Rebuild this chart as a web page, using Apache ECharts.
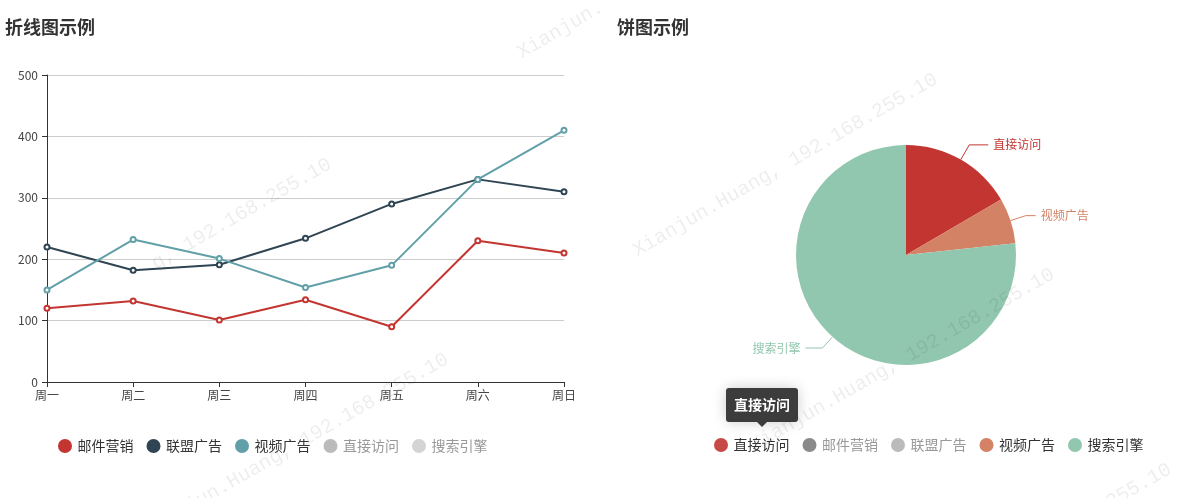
<!DOCTYPE html>
<html>
<head>
<meta charset="utf-8">
<title>示例</title>
<script src="https://cdn.jsdelivr.net/npm/echarts@6/dist/echarts.min.js"></script>
<style>
    html, body { margin: 0; padding: 0; background: #fff; overflow: hidden; }
    #lineChart, #pieChart, #markChart { position: absolute; top: 0; height: 498px; }
    #lineChart { left: 0; width: 600px; }
    #pieChart { left: 600px; width: 595px; }
    #markChart { left: 0; width: 1195px; pointer-events: none; }
</style>
</head>
<body>
<div id="lineChart"></div>
<div id="pieChart"></div>
<div id="markChart"></div>
<script>
const FONT = '"Noto Sans CJK SC", sans-serif';

// 折线图数据
const weekDays = ['周一', '周二', '周三', '周四', '周五', '周六', '周日'];
const mailValues = [120, 132, 101, 134, 90, 230, 210];
const unionValues = [220, 182, 191, 234, 290, 330, 310];
const videoValues = [150, 232, 201, 154, 190, 330, 410];
const lineLegend = ['邮件营销', '联盟广告', '视频广告', '直接访问', '搜索引擎'];

// 饼图数据 (邮件营销/联盟广告 are switched off in the legend, their values are a guess)
const pieNames = ['直接访问', '邮件营销', '联盟广告', '视频广告', '搜索引擎'];
const pieValues = [335, 310, 234, 135, 1548];

const watermarkFull = 'Xianjun.Huang, 192.168.255.10';
const watermarkCutLeft = 'g, 192.168.255.10';
const watermarkCutTop = 'Xianjun.';

const titleStyle = { fontFamily: FONT, fontSize: 18, fontWeight: 'bold', color: '#333' };

// 未选中的图例文字统一用灰色,图标颜色各不相同
function legendTextStyle() {
    return {
        fontFamily: FONT,
        fontSize: 14,
        color: '#333',
        rich: {
            off: { fontFamily: FONT, fontSize: 14, color: '#999' }
        }
    };
}

function initLineChart() {
    const chart = echarts.init(document.getElementById('lineChart'));
    const colors = { '邮件营销': '#c23531', '联盟广告': '#2f4554', '视频广告': '#61a0a8' };
    const values = { '邮件营销': mailValues, '联盟广告': unionValues, '视频广告': videoValues };
    const selected = { '直接访问': false, '搜索引擎': false };
    chart.setOption({
        animation: false,
        title: { text: '折线图示例', left: 5, top: 18, padding: 0, textStyle: titleStyle },
        legend: {
            left: 58,
            top: 439,
            padding: 0,
            itemWidth: 15,
            itemHeight: 14,
            itemGap: 13,
            icon: 'circle',
            textStyle: legendTextStyle(),
            formatter: name => (selected[name] === false ? '{off|' + name + '}' : name),
            data: lineLegend.map(name => ({
                name: name,
                icon: 'circle',
                inactiveColor: name === '搜索引擎' ? '#d4d4d4' : '#bbb',
                inactiveBorderColor: 'transparent'
            })),
            selected: selected
        },
        grid: { left: 47, top: 75, width: 517, height: 307, containLabel: false },
        xAxis: {
            type: 'category',
            boundaryGap: false,
            data: weekDays,
            axisLine: { show: true, lineStyle: { color: '#333' } },
            axisTick: { show: true, length: 5, alignWithLabel: true, lineStyle: { color: '#333' } },
            axisLabel: { color: '#444', fontFamily: FONT, fontSize: 12, margin: 7, interval: 0 }
        },
        yAxis: {
            type: 'value',
            min: 0,
            max: 500,
            interval: 100,
            axisLine: { show: true, lineStyle: { color: '#333' } },
            axisTick: { show: true, length: 5, lineStyle: { color: '#333' } },
            axisLabel: { color: '#444', fontFamily: FONT, fontSize: 12, margin: 9 },
            splitLine: { show: true, lineStyle: { color: '#ccc' } }
        },
        series: lineLegend.map(name => ({
            name: name,
            type: 'line',
            data: values[name] || [],
            symbol: 'emptyCircle',
            symbolSize: 5,
            showSymbol: true,
            itemStyle: { color: colors[name] || '#ccc', borderWidth: 0.7 },
            lineStyle: { color: colors[name] || '#ccc', width: 2 }
        }))
    });
}

function initPieChart() {
    const chart = echarts.init(document.getElementById('pieChart'));
    const colors = ['#c23531', '#2f4554', '#61a0a8', '#d48265', '#91c7ae'];
    const labelLengths = [17, 0, 0, 16, 15];
    const labelLengths2 = [19, 0, 0, 10, 17];
    const inactive = { '邮件营销': '#8a8a8a', '联盟广告': '#bbb' };
    const selected = { '邮件营销': false, '联盟广告': false };
    chart.setOption({
        animation: false,
        title: { text: '饼图示例', left: 17, top: 18, padding: 0, textStyle: titleStyle },
        legend: {
            left: 114,
            top: 438,
            padding: 0,
            itemWidth: 15,
            itemHeight: 14,
            itemGap: 13,
            icon: 'circle',
            textStyle: legendTextStyle(),
            formatter: name => (selected[name] === false ? '{off|' + name + '}' : name),
            data: pieNames.map(name => ({
                name: name,
                icon: 'circle',
                inactiveColor: inactive[name] || '#bbb',
                inactiveBorderColor: 'transparent',
                // 悬停中的图例颜色稍浅
                itemStyle: name === '直接访问' ? { color: '#c84a46' } : undefined
            })),
            selected: selected
        },
        series: [{
            type: 'pie',
            center: [306, 255],
            radius: 110,
            data: pieNames.map((name, i) => ({
                name: name,
                value: pieValues[i],
                itemStyle: { color: colors[i] },
                label: { color: colors[i] },
                labelLine: { length: labelLengths[i], length2: labelLengths2[i] }
            })),
            label: { show: true, fontFamily: FONT, fontSize: 12 },
            labelLine: { show: true, lineStyle: { width: 1 } }
        }],
        // 图例悬停提示
        graphic: [
            {
                type: 'rect',
                z: 100,
                shape: { x: 126, y: 388, width: 72, height: 34, r: 3 },
                style: { fill: '#3c3c3c', shadowBlur: 14, shadowColor: 'rgba(0,0,0,0.2)' }
            },
            {
                type: 'polygon',
                z: 100,
                shape: { points: [[157, 422], [167, 422], [162, 427]] },
                style: { fill: '#3c3c3c' }
            },
            {
                type: 'text',
                z: 101,
                x: 162,
                y: 405,
                style: {
                    text: '直接访问',
                    fill: '#fff',
                    font: 'bold 14px ' + FONT,
                    align: 'center',
                    verticalAlign: 'middle'
                }
            }
        ]
    });
}

function initWatermark() {
    const chart = echarts.init(document.getElementById('markChart'));
    // 水印的右上端点
    const marks = [
        [602, 6, watermarkCutTop],
        [936, 78, watermarkFull],
        [330, 163, watermarkCutLeft],
        [447, 358, watermarkFull],
        [1053, 273, watermarkFull],
        [1170, 468, watermarkFull]
    ];
    chart.setOption({
        animation: false,
        graphic: marks.map(m => ({
            type: 'text',
            x: m[0],
            y: m[1],
            rotation: Math.PI / 6,
            silent: true,
            style: {
                text: m[2],
                fill: 'rgba(0,0,0,0.07)',
                font: '20px "Liberation Mono", monospace',
                align: 'right',
                verticalAlign: 'middle'
            }
        }))
    });
}

document.addEventListener('DOMContentLoaded', () => {
    initLineChart();
    initPieChart();
    initWatermark();
});
</script>
</body>
</html>
